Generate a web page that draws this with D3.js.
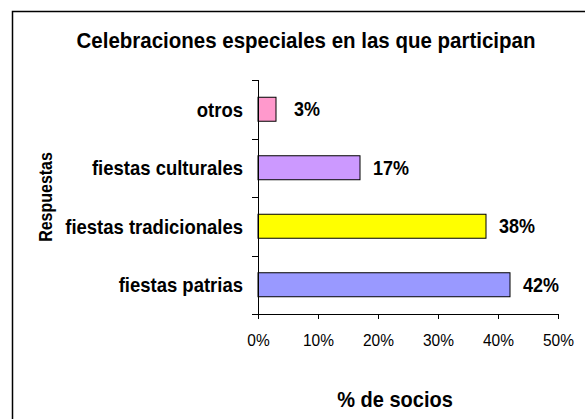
<!DOCTYPE html>
<html>
<head>
<meta charset="utf-8">
<script src="https://cdn.jsdelivr.net/npm/d3@7"></script>
<style>
  body { margin: 0; background: #fff; }
  text { font-family: "Liberation Sans", Arial, sans-serif; }
</style>
</head>
<body>
<script>
// data
var categories = ["otros", "fiestas culturales", "fiestas tradicionales", "fiestas patrias"];
var values = [3, 17, 38, 42];
var colors = ["#ff99cc", "#cc99ff", "#ffff00", "#9999ff"];
var xTicks = [0, 10, 20, 30, 40, 50];

// the original text is a bit taller than Arial at the same width
function stretch(sel, rot) {
    sel.each(function() {
        var t = d3.select(this),
            px = +t.attr("x") || 0,
            py = +t.attr("y") || 0;
        t.attr("x", 0).attr("y", 0)
            .attr("transform", "translate(" + px + "," + py + ")" + (rot ? " rotate(" + rot + ")" : "") + " scale(1,1.12)");
    });
}

var svg = d3.select("body").append("svg")
    .attr("width", 585)
    .attr("height", 419);

// outer frame (right/bottom are cut off in the original)
svg.append("path")
    .attr("d", "M12.5,419 V11.5 H585")
    .attr("fill", "none")
    .attr("stroke", "#000")
    .attr("stroke-width", 1.5);

var margin = { top: 80, left: 258 },
    width = 300,
    height = 234,
    g = svg.append("g").attr("transform", "translate(" + margin.left + "," + margin.top + ")");

var x = d3.scaleLinear().domain([0, 50]).range([0, width]);
var y = d3.scaleBand().domain(categories).range([0, height]).paddingInner(0.59).paddingOuter(0.295);

// title
svg.append("text")
    .attr("x", 306)
    .attr("y", 48)
    .attr("text-anchor", "middle")
    .style("font-size", "20.5px")
    .style("font-weight", "bold")
    .text("Celebraciones especiales en las que participan")
    .call(stretch);

// bars
g.selectAll(".bar")
    .data(values)
    .enter().append("rect")
    .attr("class", "bar")
    .attr("x", 0)
    .attr("y", function(d, i) { return y(categories[i]); })
    .attr("width", function(d) { return x(d); })
    .attr("height", y.bandwidth())
    .attr("fill", function(d, i) { return colors[i]; })
    .attr("stroke", "#000")
    .attr("stroke-width", 1);

// value labels
g.selectAll(".val")
    .data(values)
    .enter().append("text")
    .attr("class", "val")
    .attr("x", function(d) { return x(d) + 31; })
    .attr("y", function(d, i) { return y(categories[i]) + y.bandwidth() / 2; })
    .attr("dy", "0.35em")
    .attr("text-anchor", "middle")
    .style("font-size", "18px")
    .style("font-weight", "bold")
    .text(function(d) { return d + "%"; })
    .call(stretch);

// x axis
var xAxis = g.append("g")
    .attr("transform", "translate(0," + height + ")")
    .call(d3.axisBottom(x).tickValues(xTicks).tickFormat(function(d) { return d + "%"; }).tickSize(5).tickSizeOuter(0));
xAxis.select(".domain").attr("d", "M-6,0.5H" + width).attr("stroke", "#000");
xAxis.selectAll(".tick line").attr("stroke", "#000");
xAxis.selectAll(".tick text")
    .attr("y", 20)
    .style("font-size", "15.5px")
    .style("font-family", "'Liberation Sans', Arial, sans-serif")
    .attr("fill", "#000")
    .call(stretch);

// y axis: ticks on band boundaries
var yAx = g.append("g");
yAx.append("line")
    .attr("x1", 0.5).attr("x2", 0.5)
    .attr("y1", 0).attr("y2", height)
    .attr("stroke", "#000");
yAx.selectAll(".ytick")
    .data(d3.range(categories.length + 1))
    .enter().append("line")
    .attr("x1", -6).attr("x2", 0.5)
    .attr("y1", function(i) { return Math.round(i * height / categories.length) + 0.5; })
    .attr("y2", function(i) { return Math.round(i * height / categories.length) + 0.5; })
    .attr("stroke", "#000");
yAx.selectAll(".ylab")
    .data(categories)
    .enter().append("text")
    .attr("x", -15)
    .attr("y", function(d) { return y(d) + y.bandwidth() / 2; })
    .attr("dy", "0.35em")
    .attr("text-anchor", "end")
    .style("font-size", "18.5px")
    .style("font-weight", "bold")
    .text(function(d) { return d; })
    .call(stretch);

// axis titles
svg.append("text")
    .attr("x", 395)
    .attr("y", 407)
    .attr("text-anchor", "middle")
    .style("font-size", "20px")
    .style("font-weight", "bold")
    .text("% de socios")
    .call(stretch);

svg.append("text")
    .attr("x", 52)
    .attr("y", 197)
    .attr("text-anchor", "middle")
    .style("font-size", "16px")
    .style("font-weight", "bold")
    .text("Respuestas")
    .call(stretch, -90);
</script>
</body>
</html>
